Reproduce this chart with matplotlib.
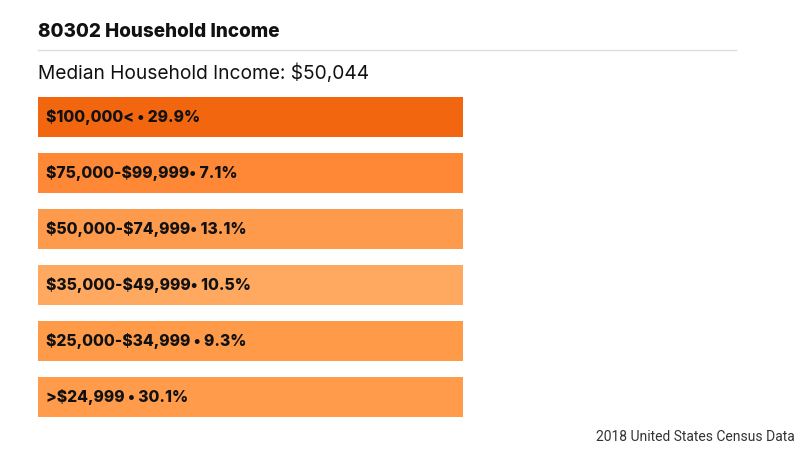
import matplotlib
matplotlib.use("Agg")
import matplotlib.pyplot as plt

# income brackets, top to bottom as shown
brackets = ["$100,000<", "$75,000-$99,999", "$50,000-$74,999",
            "$35,000-$49,999", "$25,000-$34,999", ">$24,999"]
seps = [" • ", "• ", "• ", "• ", " • ", " • "]
shares = [29.9, 7.1, 13.1, 10.5, 9.3, 30.1]
bar_colors = ["#F2660F", "#FE8835", "#FE9A4C", "#FFA860", "#FF9A49", "#FF9B4A"]

title = "80302 Household Income"
median_text = "Median Household Income: $50,044"
source = "2018 United States Census Data"

DARK = "#111111"
plt.rcParams["font.family"] = ["Inter", "DejaVu Sans"]
plt.rcParams["text.parse_math"] = False

fig = plt.figure(figsize=(8, 4.5), dpi=100, facecolor="white")

fig.text(38 / 800, 1 - 32 / 450, title, fontsize=13.6, fontweight="heavy",
         color=DARK, va="center", ha="left")
fig.add_artist(plt.Line2D([38 / 800, 736 / 800], [1 - 50 / 450, 1 - 50 / 450],
                          color="#DDDDDD", linewidth=1))
fig.text(38 / 800, 1 - 73 / 450, median_text, fontsize=13.8, color=DARK,
         va="center", ha="left")
fig.text(795 / 800, 1 - 437 / 450, source, fontsize=10, color="#333333",
         va="center", ha="right", family=["Roboto", "DejaVu Sans"])

ax = fig.add_axes([38 / 800, 1 - 417 / 450, 425 / 800, 320 / 450])
ypos = list(range(len(brackets)))
# every bracket is drawn as a full-width band; the share is only in the label
ax.barh(ypos, [1] * len(brackets), height=0.714, color=bar_colors, left=0)
for y, b, s, v in zip(ypos, brackets, seps, shares):
    ax.text(0.019, y, f"{b}{s}{v}%", fontsize=11.3, fontweight="heavy",
            color=DARK, va="center", ha="left")

ax.set_xlim(0, 1)
ax.set_ylim(len(brackets) - 1 + 0.357, -0.357)
ax.axis("off")

plt.savefig("out.png", dpi=100, facecolor="white")
